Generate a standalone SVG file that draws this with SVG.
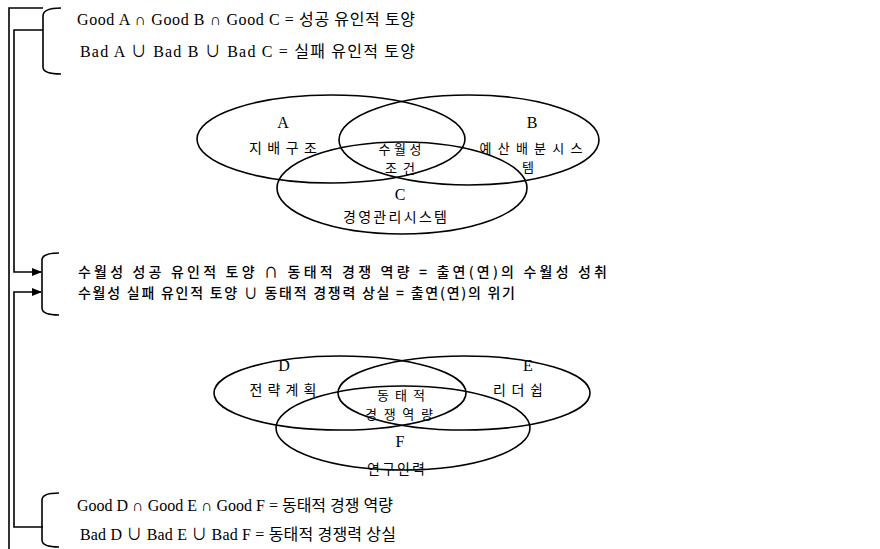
<svg xmlns="http://www.w3.org/2000/svg" width="880" height="549" viewBox="0 0 880 549">
<style>
.ln{fill:none;stroke:#000;stroke-width:1.6}
.el{fill:none;stroke:#000;stroke-width:1.6}
.eq{font-family:"Liberation Serif","Noto Sans CJK KR",serif;font-size:16px;fill:#000}
.mid{font-family:"Noto Sans CJK KR",sans-serif;font-size:14px;font-weight:500;fill:#000}
.lt{font-family:"Liberation Serif",serif;font-size:16px;fill:#000;text-anchor:middle}
.kr{font-family:"Noto Sans CJK KR",sans-serif;font-size:14px;fill:#000;text-anchor:middle}
.ks{font-family:"Noto Sans CJK KR",sans-serif;font-size:13px;fill:#000;text-anchor:middle}
</style>
<defs>
<marker id="ah" markerWidth="10" markerHeight="8" refX="9" refY="4" orient="auto" markerUnits="userSpaceOnUse">
<path d="M0,0 L10,4 L0,8 Z" fill="#000"/>
</marker>
</defs>
<rect width="880" height="549" fill="#fff"/>

<g id="connectors">
<path class="ln" d="M43,8 H9 V549"/>
<path class="ln" d="M43,30 H14 V272 H41" marker-end="url(#ah)"/>
<path class="ln" d="M43,527 H14 V292 H41" marker-end="url(#ah)"/>
</g>

<g id="top-formula">
<path class="ln" d="M61,8 Q43,8 43,16 V67 Q43,74 61,74"/>
<text class="eq" x="77" y="25" textLength="338" lengthAdjust="spacing">Good A ∩ Good B ∩ Good C = 성공 유인적 토양</text>
<text class="eq" x="80" y="57" textLength="335" lengthAdjust="spacing">Bad  A ∪ Bad  B ∪ Bad  C = 실패 유인적 토양</text>
</g>

<g id="venn1">
<ellipse class="el" cx="331" cy="139" rx="134" ry="44"/>
<ellipse class="el" cx="469" cy="140" rx="130" ry="45"/>
<ellipse class="el" cx="402" cy="188" rx="125" ry="46"/>
<text class="lt" x="283" y="128">A</text>
<text class="kr" x="283" y="153" textLength="68" lengthAdjust="spacing">지배구조</text>
<text class="lt" x="532" y="128">B</text>
<text class="ks" x="531" y="153" textLength="103" lengthAdjust="spacing">예산배분시스</text>
<text class="ks" x="528" y="172">템</text>
<text class="ks" x="400" y="154" textLength="43" lengthAdjust="spacing">수월성</text>
<text class="ks" x="400" y="173" textLength="30" lengthAdjust="spacing">조건</text>
<text class="lt" x="400" y="200">C</text>
<text class="kr" x="395" y="222" textLength="104" lengthAdjust="spacing">경영관리시스템</text>
</g>

<g id="middle-formula">
<path class="ln" d="M59,253 Q42,253 42,260 V308 Q42,315 59,315"/>
<text class="mid" x="78" y="277" textLength="529" lengthAdjust="spacing">수월성 성공 유인적 토양 ∩ 동태적 경쟁 역량 = 출연(연)의 수월성 성취</text>
<text class="mid" x="78" y="298" textLength="437" lengthAdjust="spacing">수월성 실패 유인적 토양 ∪ 동태적 경쟁력 상실 = 출연(연)의 위기</text>
</g>

<g id="venn2">
<ellipse class="el" cx="340" cy="393" rx="126" ry="37"/>
<ellipse class="el" cx="464" cy="393" rx="126" ry="37"/>
<ellipse class="el" cx="403" cy="428" rx="127" ry="42"/>
<text class="lt" x="284" y="371">D</text>
<text class="kr" x="283" y="395" textLength="67" lengthAdjust="spacing">전략계획</text>
<text class="lt" x="528" y="371">E</text>
<text class="kr" x="518" y="395" textLength="50" lengthAdjust="spacing">리더쉽</text>
<text class="ks" x="401" y="400" textLength="48" lengthAdjust="spacing">동태적</text>
<text class="ks" x="399" y="419" textLength="68" lengthAdjust="spacing">경쟁역량</text>
<text class="lt" x="400" y="447">F</text>
<text class="kr" x="396" y="474" textLength="58" lengthAdjust="spacing">연구인력</text>
</g>

<g id="bottom-formula">
<path class="ln" d="M59,493 Q42,493 42,500 V540 Q42,547 59,547"/>
<text class="eq" x="77" y="511" textLength="316" lengthAdjust="spacing">Good D ∩ Good E ∩ Good F = 동태적 경쟁 역량</text>
<text class="eq" x="80" y="540" textLength="316" lengthAdjust="spacing">Bad  D ∪ Bad  E ∪ Bad  F = 동태적 경쟁력 상실</text>
</g>
</svg>
